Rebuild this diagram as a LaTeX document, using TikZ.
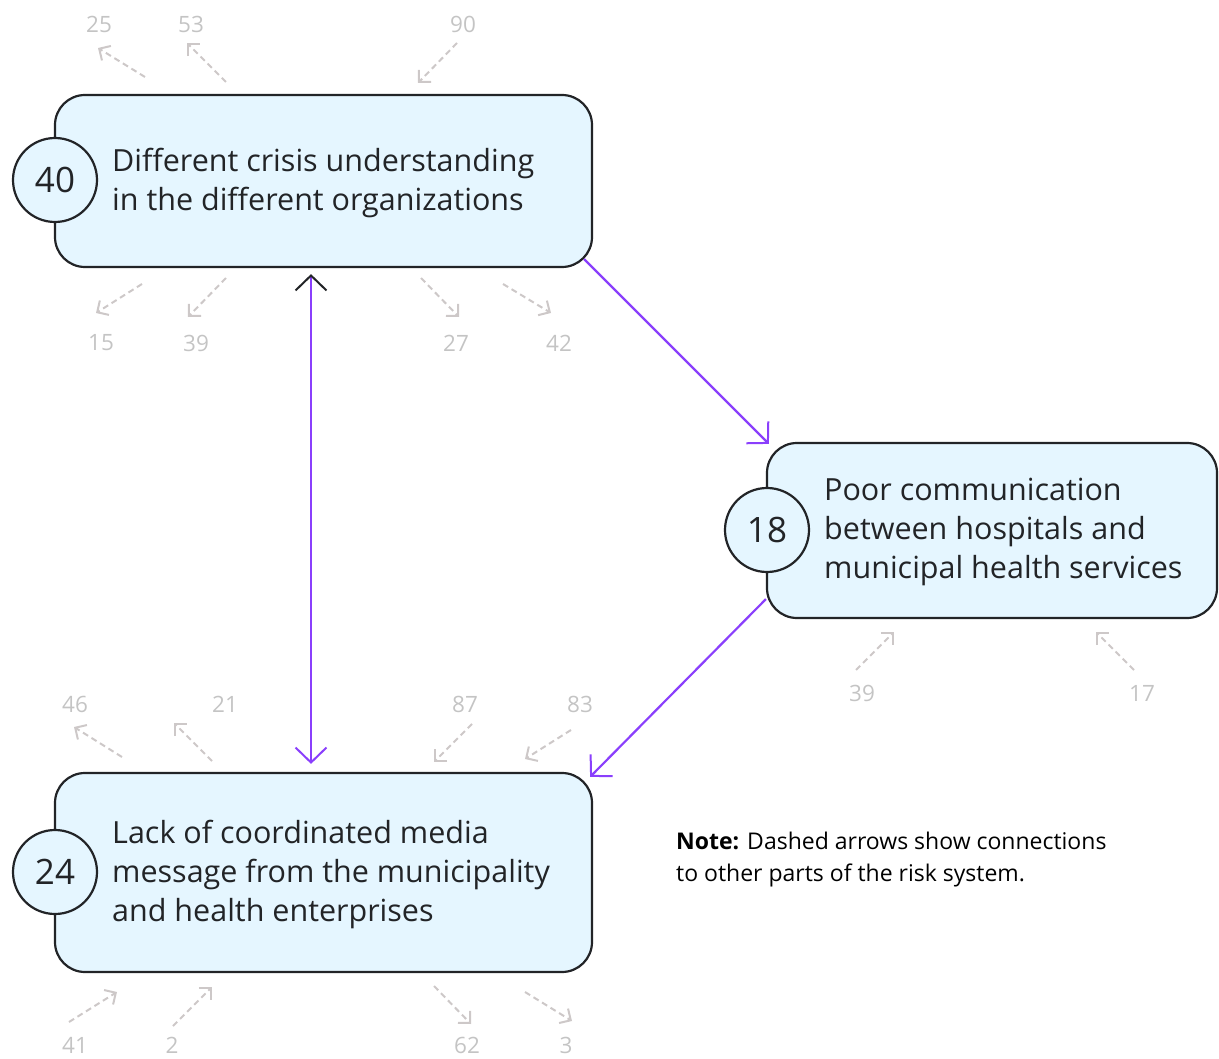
\documentclass[tikz,border=0pt]{standalone}
\usepackage{fontspec}
\setmainfont{Open Sans}
\usetikzlibrary{arrows.meta, calc}
\definecolor{riskfill}{HTML}{E5F6FF}
\definecolor{riskline}{HTML}{222427}
\definecolor{linkpurple}{HTML}{8A3FFC}
\definecolor{otherline}{HTML}{CDC8C8}
\definecolor{othertext}{HTML}{C4C4C4}

\begin{document}
\begin{tikzpicture} [x=1pt, y=-1pt,
    barb/.tip = {Straight Barb[length=15pt, width=31pt, line width=2pt]},
    box/.style = {draw=riskline, fill=riskfill, line width=2.2pt, rounded corners=30pt, inner sep=0},
    num/.style = {circle, draw=riskline, fill=riskfill, line width=2.2pt, minimum size=84pt, inner sep=0,
        text=riskline, font=\fontsize{35}{35}\selectfont},
    txt/.style = {anchor=west, align=left, inner sep=0, text=riskline, font=\fontsize{30.5}{39}\selectfont},
    link/.style = {draw=linkpurple, line width=2.2pt},
    other/.style = {draw=otherline, line width=2pt, dash pattern=on 6pt off 4pt,
        -{Straight Barb[length=8.5pt, width=17pt, line width=2pt]}},
    oth/.style = {text=othertext, inner sep=0, font=\fontsize{22.5}{22.5}\selectfont},
    ]
    \useasboundingbox (0,0) rectangle (1219,1059);

    % risk boxes with their numbers
    \node[box, minimum width=537pt, minimum height=172pt] at (323.5,181) (b40) {};
    \node[box, minimum width=450pt, minimum height=175pt] at (992,530.5) (b18) {};
    \node[box, minimum width=537pt, minimum height=199pt] at (323.5,872.5) (b24) {};
    \node[num] at (55,180) (n40) {40};
    \node[num] at (767,530) (n18) {18};
    \node[num] at (55,872) (n24) {24};
    \node[txt] at (112,183) (t40) {Different crisis understanding\\in the different organizations};
    \node[txt] at (824,532) (t18) {Poor communication\\between hospitals and\\municipal health services};
    \node[txt] at (112,874) (t24) {Lack of coordinated media\\message from the municipality\\and health enterprises};

    % links between the three risks
    \draw[link, -barb] ($(b40.south east)+(-9,-9)$) -- ($(b18.north west)+(3,2)$);
    \draw[link, -barb] ($(b18.south west)+(0,-20)$) -- ($(b24.north east)+(-3,5)$);
    \draw[link, {Straight Barb[length=15pt, width=31pt, line width=2pt, color=riskline]}-barb]
        ($(b40.south)+(-12.5,6)$) -- ($(b24.north)+(-12.5,-8)$);

    % dashed arrows to the rest of the system
    \foreach \tx/\ty/\hx/\hy/\lx/\ly/\n [count=\i] in {
        145/77/98/48/99/24/25, 226/82/187/43/191/24/53, 457/43/418/83/463/24/90,
        142/284/96/313/101/343/15, 226/278/188/317/196/343/39,
        421/278/459/317/456/343/27, 503/284/551/313/559/343/42,
        856/670/894/632/862/693/39, 1134/670/1096/632/1142/693/17,
        122/757/74/727/75/704/46, 212/761/174/723/225/704/21,
        472/724/434/762/465/704/87, 571/730/525/759/580/704/83,
        69/1022/117/992/75/1045/41, 173/1026/212/987/172/1045/2,
        434/986/471/1024/467/1045/62, 525/992/572/1021/566/1045/3} {
        \coordinate (oa\i) at (\tx,\ty);
        \coordinate (ob\i) at (\hx,\hy);
        \draw[other] (oa\i) -- (ob\i);
        \node[oth] at (\lx,\ly) (ol\i) {\n};
    }

    \node[anchor=west, align=left, inner sep=0, font=\fontsize{23}{32}\selectfont] at (676,860) (note)
        {\textbf{Note:} Dashed arrows show connections\\to other parts of the risk system.};
\end{tikzpicture}
\end{document}
